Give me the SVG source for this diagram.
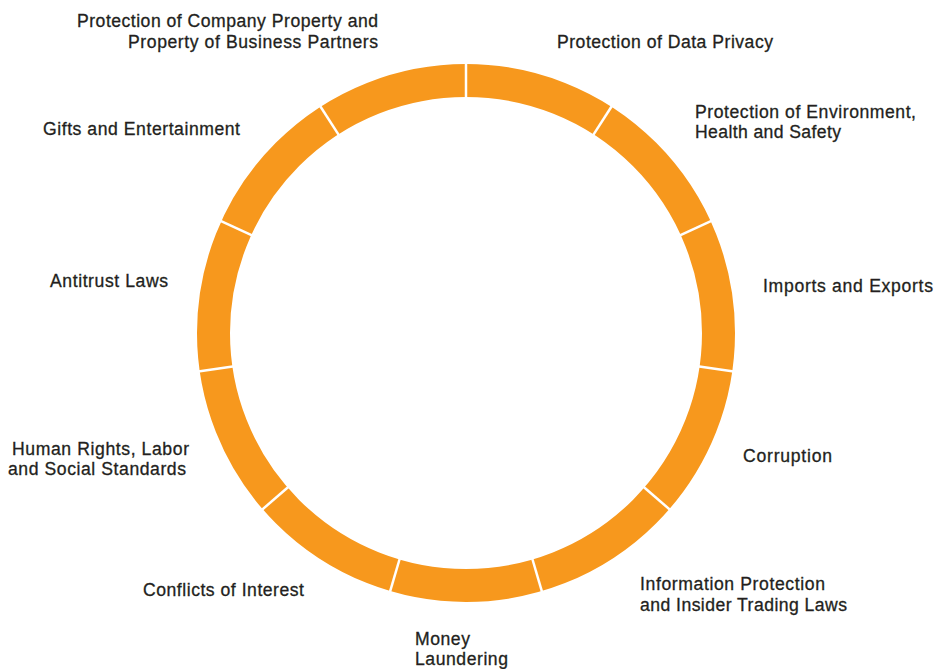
<svg xmlns="http://www.w3.org/2000/svg" width="936" height="669" viewBox="0 0 936 669">
<style>
  text { font-family: "Liberation Sans", Arial, sans-serif; font-size: 17.6px; fill: #231f20; stroke: #231f20; stroke-width: 0.3; }
  .ring { fill: none; stroke: #f7981d; stroke-width: 33; }
  .sep { stroke: #ffffff; stroke-width: 2.5; }
</style>
<rect width="936" height="669" fill="#ffffff"/>
<g id="ring">
  <circle class="ring" cx="466" cy="333" r="252.5"/>
</g>
<g id="connectors">
  <line class="sep" x1="466" y1="59" x2="466" y2="99" transform="rotate(0 466 333)"/>
  <line class="sep" x1="466" y1="59" x2="466" y2="99" transform="rotate(32.727 466 333)"/>
  <line class="sep" x1="466" y1="59" x2="466" y2="99" transform="rotate(65.455 466 333)"/>
  <line class="sep" x1="466" y1="59" x2="466" y2="99" transform="rotate(98.182 466 333)"/>
  <line class="sep" x1="466" y1="59" x2="466" y2="99" transform="rotate(130.909 466 333)"/>
  <line class="sep" x1="466" y1="59" x2="466" y2="99" transform="rotate(163.636 466 333)"/>
  <line class="sep" x1="466" y1="59" x2="466" y2="99" transform="rotate(196.364 466 333)"/>
  <line class="sep" x1="466" y1="59" x2="466" y2="99" transform="rotate(229.091 466 333)"/>
  <line class="sep" x1="466" y1="59" x2="466" y2="99" transform="rotate(261.818 466 333)"/>
  <line class="sep" x1="466" y1="59" x2="466" y2="99" transform="rotate(294.545 466 333)"/>
  <line class="sep" x1="466" y1="59" x2="466" y2="99" transform="rotate(327.273 466 333)"/>
</g>
<g id="data-privacy">
  <text x="557" y="48" textLength="216" lengthAdjust="spacing">Protection of Data Privacy</text>
</g>
<g id="environment">
  <text x="695" y="118" textLength="221" lengthAdjust="spacing">Protection of Environment,</text>
  <text x="695" y="138" textLength="146" lengthAdjust="spacing">Health and Safety</text>
</g>
<g id="imports-exports">
  <text x="763" y="292" textLength="170" lengthAdjust="spacing">Imports and Exports</text>
</g>
<g id="corruption">
  <text x="743" y="462" textLength="89" lengthAdjust="spacing">Corruption</text>
</g>
<g id="information-protection">
  <text x="640" y="590" textLength="185" lengthAdjust="spacing">Information Protection</text>
  <text x="640" y="611" textLength="207" lengthAdjust="spacing">and Insider Trading Laws</text>
</g>
<g id="money-laundering">
  <text x="415" y="645" textLength="55" lengthAdjust="spacing">Money</text>
  <text x="415" y="665" textLength="93" lengthAdjust="spacing">Laundering</text>
</g>
<g id="conflicts-of-interest">
  <text x="143" y="596" textLength="161" lengthAdjust="spacing">Conflicts of Interest</text>
</g>
<g id="human-rights">
  <text x="12" y="455" textLength="177" lengthAdjust="spacing">Human Rights, Labor</text>
  <text x="8" y="475" textLength="178" lengthAdjust="spacing">and Social Standards</text>
</g>
<g id="antitrust">
  <text x="50" y="287" textLength="118" lengthAdjust="spacing">Antitrust Laws</text>
</g>
<g id="gifts">
  <text x="43" y="135" textLength="197" lengthAdjust="spacing">Gifts and Entertainment</text>
</g>
<g id="company-property">
  <text x="77" y="27" textLength="301" lengthAdjust="spacing">Protection of Company Property and</text>
  <text x="128" y="48" textLength="250" lengthAdjust="spacing">Property of Business Partners</text>
</g>
</svg>
